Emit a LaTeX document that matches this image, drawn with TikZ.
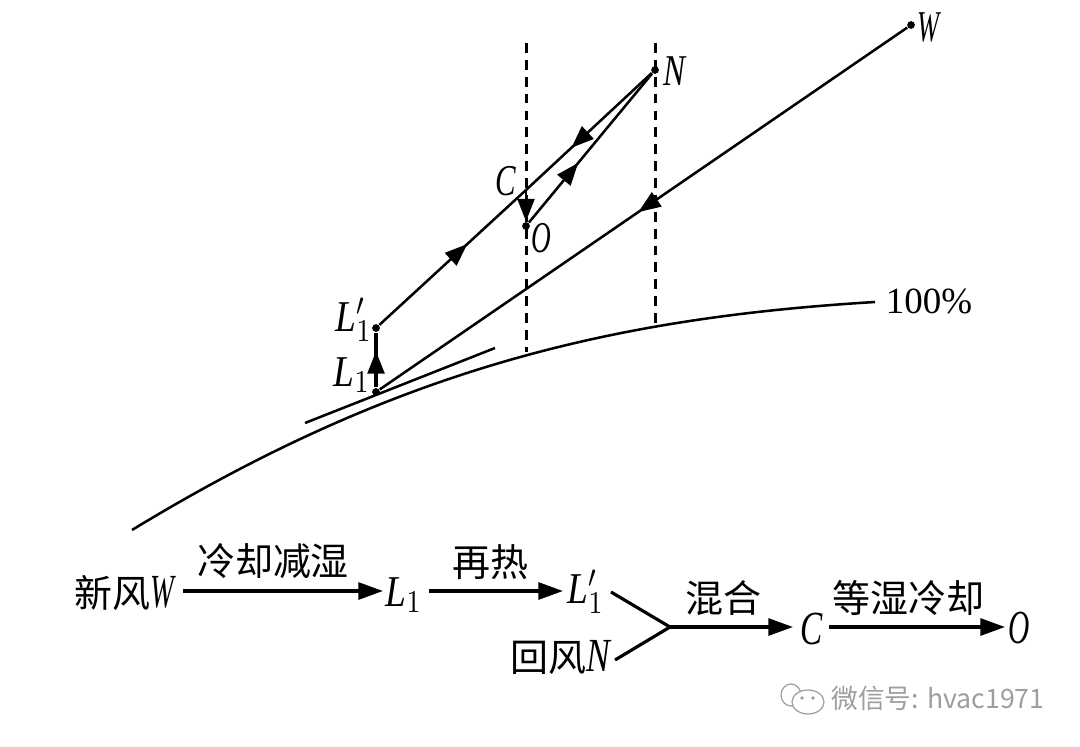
\documentclass[tikz,border=0pt]{standalone}
\usepackage{fontspec}
\setmainfont{Liberation Serif}
\newfontfamily\cjk{Noto Sans CJK SC}
\usetikzlibrary{arrows.meta,decorations.markings}
\definecolor{wmgray}{gray}{0.62}
\newcommand{\slimlet}[2][0.7]{\scalebox{#1}[1]{$#2$}}
\newcommand{\biglet}[1]{{\fontsize{13.5}{14}\selectfont #1}}
\tikzset{
  pointdot/.style={circle,fill=black,inner sep=0pt,minimum size=2.2pt},
  lab/.style={inner sep=0pt,font=\fontsize{12.5}{14}\selectfont},
  cjklab/.style={inner sep=0pt,font=\fontsize{10.8}{13}\selectfont\cjk},
  line/.style={line width=0.72pt},
  dashline/.style={line width=0.85pt,dash pattern=on 2.8pt off 2pt},
  flow/.style={line width=0.9pt,-{Triangle[length=7pt,width=4.8pt]}},
  midarrow/.style={postaction={decorate},decoration={markings,
    mark=at position #1 with {\arrow{Triangle[length=6.4pt,width=4.8pt]}}}},
}
\begin{document}
\begin{tikzpicture}[x=0.01cm,y=-0.01cm]
\useasboundingbox (0,0) rectangle (1080,746);
% chart points
\node[pointdot] (W) at (911,25) {};
\node[pointdot] (N) at (655,70) {};
\node[pointdot] (O) at (526,226) {};
\node[pointdot] (Lp) at (376,328) {};
\node[pointdot] (L) at (376,392) {};
\coordinate (C) at (526,190);
\coordinate (dashAtop) at (526,43);
\coordinate (dashAend) at (526,352);
\coordinate (dashBtop) at (655,43);
\coordinate (dashBend) at (655,328);
\coordinate (tanA) at (305,423);
\coordinate (tanB) at (495,348);

\draw[dashline] (dashAtop) -- (dashAend);
\draw[dashline] (dashBtop) -- (dashBend);
\draw[line] (132,530) .. controls (395,370) and (610,318) .. (875,302);
\draw[line] (tanA) -- (tanB);
\draw[line,midarrow=0.51] (W) -- (L);
\draw[line,midarrow=0.6] (Lp) -- (C);
\draw[line,midarrow=0.64] (N) -- (C);
\draw[line,midarrow=0.4] (O) -- (N);
\draw[line,midarrow=1] (C) -- (O);
\draw[line width=0.9pt,midarrow=0.66] (L) -- (Lp);

% chart labels
\node[lab] (lblW) at (928,27) {\slimlet[0.6]{\mathit{W}}};
\node[lab] (lblN) at (674,71) {\slimlet[0.75]{\mathit{N}}};
\node[lab] (lblC) at (506,181) {\slimlet{\mathit{C}}};
\node[lab] (lblO) at (541,238) {\slimlet[0.62]{\mathit{O}}};
\node[lab] (lblLp) at (354,320) {\slimlet[0.85]{\mathit{L}_1'}};
\node[lab] (lblL) at (352,375) {\slimlet[0.85]{\mathit{L}_1}};
\node[inner sep=0pt,font=\fontsize{10.5}{13}\selectfont] (lblRH) at (929,301) {100\%};

% process line
\node[cjklab] (fresh) at (124,593) {新风\biglet{\slimlet[0.6]{\mathit{W}}}};
\node[lab] (procL) at (404,595) {\slimlet[0.85]{\mathit{L}_1}};
\node[lab] (procLp) at (586,592) {\slimlet[0.85]{\mathit{L}_1'}};
\node[cjklab] (ret) at (560,657) {回风\biglet{\slimlet[0.75]{\mathit{N}}}};
\coordinate (mix) at (670,627);
\coordinate (mixA) at (611,592);
\coordinate (mixB) at (615,660);
\node[lab] (procC) at (812,629) {\biglet{\slimlet{\mathit{C}}}};
\node[lab] (procO) at (1019,628) {\biglet{\slimlet[0.62]{\mathit{O}}}};

\draw[flow] (183,591) coordinate (s1) -- (383,591) coordinate (e1);
\draw[flow] (429,591) coordinate (s2) -- (563,591) coordinate (e2);
\draw[line width=0.9pt] (mixA) -- (mix) -- (mixB);
\draw[flow] (mix) -- (793,627) coordinate (e3);
\draw[flow] (829,627) coordinate (s4) -- (1005,627) coordinate (e4);

\node[cjklab] (cool) at (273,561) {冷却减湿};
\node[cjklab] (reheat) at (490,562) {再热};
\node[cjklab] (mixing) at (723,598) {混合};
\node[cjklab] (iso) at (908,598) {等湿冷却};

% watermark
\draw[wmgray,line width=0.35pt,fill=white] (791,695) ellipse (10 and 11);
\draw[wmgray,line width=0.35pt,fill=white] (808,702) ellipse (16 and 12);
\fill[wmgray] (802,698) circle (1.8) (813,698) circle (1.8);
\node[inner sep=0pt,text=wmgray,font=\fontsize{7.6}{9}\selectfont\cjk] (mark) at (938,698) {微信号: hvac1971};
\end{tikzpicture}
\end{document}
